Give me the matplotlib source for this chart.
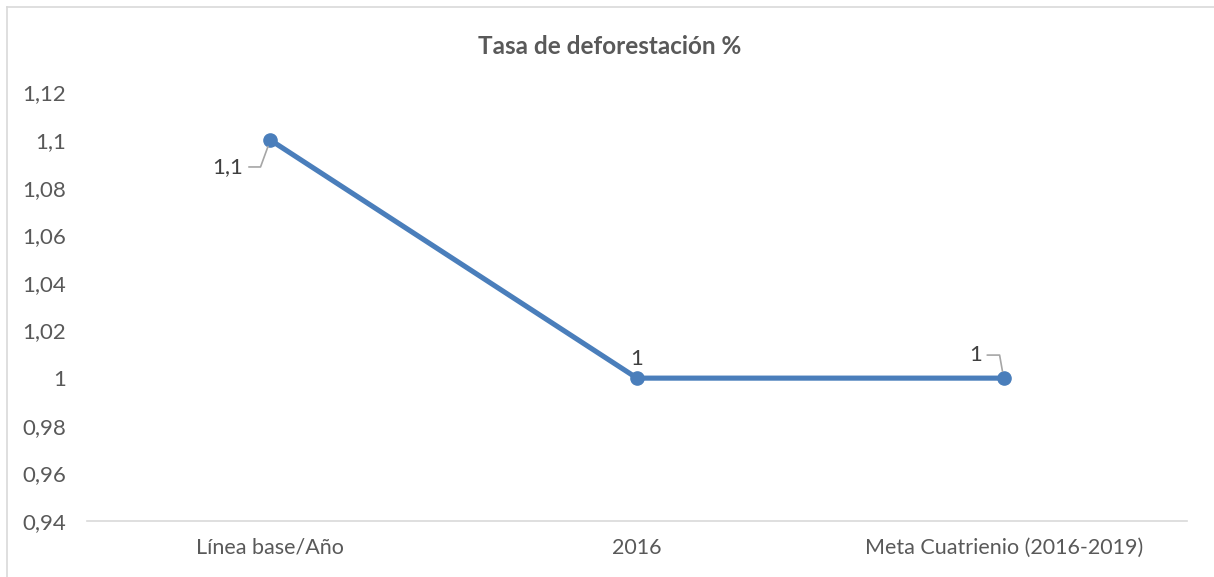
import matplotlib
matplotlib.use("Agg")
import matplotlib.pyplot as plt
from matplotlib.lines import Line2D
from matplotlib.ticker import FuncFormatter

categories = ["Línea base/Año", "2016", "Meta Cuatrienio (2016-2019)"]
values = [1.1, 1.0, 1.0]
value_labels = ["1,1", "1", "1"]
y_ticks = [0.94, 0.96, 0.98, 1.0, 1.02, 1.04, 1.06, 1.08, 1.1, 1.12]

plt.rcParams['font.family'] = ['Lato', 'DejaVu Sans']

W, H = 1214, 577
fig = plt.figure(figsize=(W / 100, H / 100), dpi=100)
ax = fig.add_axes([87 / W, 1 - 521 / H, 1100 / W, (521 - 92.4) / H])

x = list(range(len(categories)))
ax.plot(x, values, color='#4A7EBB', lw=3.7, marker='o', ms=9.5,
        solid_capstyle='round', zorder=3)

ax.set_xlim(-0.5, len(categories) - 0.5)
ax.set_ylim(0.94, 1.12)
ax.set_yticks(y_ticks)
ax.yaxis.set_major_formatter(FuncFormatter(lambda v, p: ('%g' % round(v, 2)).replace('.', ',')))
ax.set_xticks(x)
ax.set_xticklabels(categories)
ax.tick_params(axis='y', length=0, labelsize=16, labelcolor='#595959', pad=15)
ax.tick_params(axis='x', length=0, labelsize=15.5, labelcolor='#595959', pad=12)

for side in ['left', 'right', 'top']:
    ax.spines[side].set_visible(False)
ax.spines['bottom'].set_color('#D9D9D9')
ax.spines['bottom'].set_linewidth(1.2)

lead = dict(arrowstyle='-', color='#A6A6A6', lw=1.2, shrinkA=2, shrinkB=5)

# data labels
ax.annotate(value_labels[0], xy=(x[0], values[0]), xytext=(-30.6, -19.4),
            textcoords='offset points', ha='center', va='center',
            fontsize=16, color='#404040',
            arrowprops=dict(lead, connectionstyle='angle,angleA=0,angleB=70,rad=0'))
ax.annotate(value_labels[1], xy=(x[1], values[1]), xytext=(0, 13.7),
            textcoords='offset points', ha='center', va='center',
            fontsize=16, color='#404040')
ax.annotate(value_labels[2], xy=(x[2], values[2]), xytext=(-20.5, 16.6),
            textcoords='offset points', ha='center', va='center',
            fontsize=16, color='#404040',
            arrowprops=dict(lead, connectionstyle='angle,angleA=0,angleB=100,rad=0'))

fig.text(0.5025, 1 - 47 / H, "Tasa de deforestación %", ha='center', va='center',
         fontsize=17.5, fontweight='bold', color='#595959')

# chart area border
fig.add_artist(Line2D([6.5 / W, 6.5 / W], [0, 1 - 7 / H], color='#D9D9D9', lw=1.2))
fig.add_artist(Line2D([6.5 / W, 1], [1 - 7 / H, 1 - 7 / H], color='#D9D9D9', lw=1.2))

fig.savefig('out.png', dpi=100, facecolor='white')
